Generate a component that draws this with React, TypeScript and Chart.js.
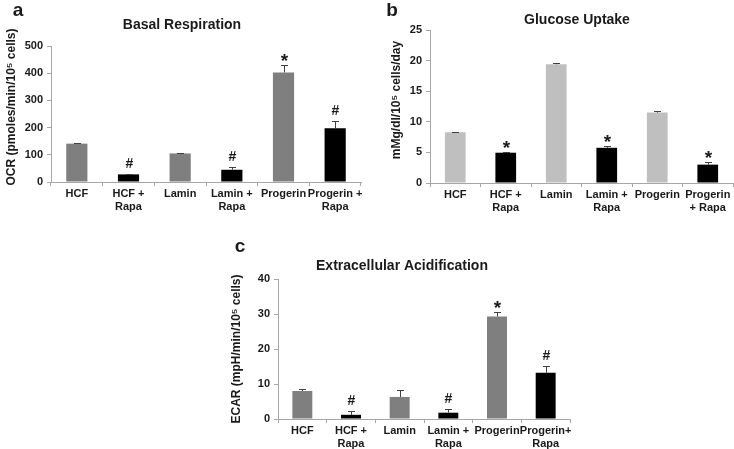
import React, { useEffect, useRef } from "react";
import { Chart, registerables } from "chart.js";

Chart.register(...registerables);

const FONT = '"Liberation Sans", Arial, Helvetica, sans-serif';

// ---------- data ----------
const catsA = [["HCF"], ["HCF +", "Rapa"], ["Lamin"], ["Lamin +", "Rapa"], ["Progerin"], ["Progerin +", "Rapa"]];
const catsB = [["HCF"], ["HCF +", "Rapa"], ["Lamin"], ["Lamin +", "Rapa"], ["Progerin"], ["Progerin", "+ Rapa"]];
const catsC = [["HCF"], ["HCF +", "Rapa"], ["Lamin"], ["Lamin +", "Rapa"], ["Progerin"], ["Progerin+", "Rapa"]];

const ocrValues = [141, 28, 105, 45, 403, 198];
const ocrErrors = [3, 3, 3, 11, 28, 26];
const ocrMarks = ["", "#", "", "#", "*", "#"];

const glucoseValues = [8.3, 4.95, 19.4, 5.75, 11.5, 3.0];
const glucoseErrors = [0.1, 0.1, 0.15, 0.25, 0.3, 0.4];
const glucoseMarks = ["", "*", "", "*", "", "*"];

const ecarValues = [8.0, 1.2, 6.3, 1.8, 29.3, 13.2];
const ecarErrors = [0.5, 1.0, 2.0, 1.0, 1.4, 2.0];
const ecarMarks = ["", "#", "", "#", "*", "#"];

const titles = ["Basal Respiration", "Glucose Uptake", "Extracellular Acidification"];
const yTitles = ["OCR (pmoles/min/10\u2075 cells)", "mMg/dl/10\u2075 cells/day", "ECAR (mpH/min/10\u2075 cells)"];
const letters = ["a", "b", "c"];

// ---------- style ----------
const DARK_GRAY = "#7f7f7f";
const LIGHT_GRAY = "#bfbfbf";
const BLACK = "#000000";
const AXIS = "#a6a6a6";
const TEXT = "#1a1a1a";

const annotPlugin = {
  id: "annot",
  afterDatasetsDraw(chart: any, _args: any, opts: any) {
    const ctx = chart.ctx;
    const meta = chart.getDatasetMeta(0);
    const y = chart.scales.y;
    meta.data.forEach((bar: any, i: number) => {
      const v = opts.values[i];
      const e = opts.errors[i];
      const x = Math.round(bar.x);
      const yTop = Math.round(y.getPixelForValue(v + e));
      const yBar = y.getPixelForValue(v);
      ctx.save();
      ctx.strokeStyle = "#404040";
      ctx.lineWidth = 1;
      ctx.beginPath();
      ctx.moveTo(x + 0.5, yBar);
      ctx.lineTo(x + 0.5, yTop + 0.5);
      ctx.moveTo(x - 3, yTop + 0.5);
      ctx.lineTo(x + 4, yTop + 0.5);
      ctx.stroke();
      const m = opts.marks[i];
      if (m) {
        ctx.fillStyle = TEXT;
        ctx.textAlign = "center";
        ctx.textBaseline = "alphabetic";
        if (m === "*") {
          ctx.font = `bold 19px ${FONT}`;
          ctx.fillText(m, x + 0.5, yTop + 2);
        } else {
          ctx.font = `bold 14px ${FONT}`;
          ctx.fillText(m, x + 0.5, yTop - 6);
        }
      }
      ctx.restore();
    });
  },
  afterDraw(chart: any, _args: any, opts: any) {
    const ctx = chart.ctx;
    ctx.save();
    ctx.fillStyle = TEXT;
    ctx.textAlign = "center";
    ctx.textBaseline = "middle";
    ctx.font = `bold 14px ${FONT}`;
    ctx.fillText(opts.title, opts.titleX, opts.titleY);
    ctx.save();
    ctx.translate(opts.yTitleX, opts.yTitleY);
    ctx.rotate(-Math.PI / 2);
    ctx.font = `bold 12px ${FONT}`;
    ctx.fillText(opts.yTitle, 0, 0);
    ctx.restore();
    ctx.textBaseline = "alphabetic";
    ctx.font = `bold 19px ${FONT}`;
    ctx.fillText(opts.letter, opts.letterX, opts.letterY);
    ctx.restore();
  },
};

type PanelCfg = {
  labels: string[][];
  values: number[];
  errors: number[];
  marks: string[];
  colors: string[];
  max: number;
  step: number;
  padding: { left: number; right: number; top: number; bottom: number };
  yWidth: number;
  xHeight: number;
  text: any;
};

function Panel({ cfg }: { cfg: PanelCfg }) {
  const ref = useRef<HTMLCanvasElement | null>(null);
  useEffect(() => {
    if (!ref.current) return;
    const tickFont = { family: FONT, size: 11, weight: "bold" as const, lineHeight: 1.2 };
    const chart = new Chart(ref.current, {
      type: "bar",
      data: {
        labels: cfg.labels as any,
        datasets: [
          {
            data: cfg.values,
            backgroundColor: cfg.colors,
            borderWidth: 0,
            categoryPercentage: 1,
            barPercentage: 0.41,
          },
        ],
      },
      options: {
        animation: false,
        responsive: false,
        devicePixelRatio: 1,
        layout: { padding: cfg.padding },
        plugins: {
          legend: { display: false },
          title: { display: false },
          tooltip: { enabled: false },
          annot: {
            values: cfg.values,
            errors: cfg.errors,
            marks: cfg.marks,
            ...cfg.text,
          },
        } as any,
        scales: {
          x: {
            offset: true,
            grid: { offset: true, drawOnChartArea: false, drawTicks: true, tickLength: 4, color: AXIS },
            border: { color: AXIS, width: 1 },
            ticks: { font: tickFont, color: TEXT, padding: 1, maxRotation: 0, autoSkip: false },
            afterFit: (s: any) => {
              s.height = cfg.xHeight;
            },
          },
          y: {
            min: 0,
            max: cfg.max,
            grid: { drawOnChartArea: false, drawTicks: true, tickLength: 4, color: AXIS },
            border: { color: AXIS, width: 1 },
            ticks: { stepSize: cfg.step, font: tickFont, color: TEXT, padding: 4 },
            afterFit: (s: any) => {
              s.width = cfg.yWidth;
            },
          },
        },
      },
      plugins: [annotPlugin as any],
    });
    return () => chart.destroy();
  }, []);
  return (
    <canvas
      ref={ref}
      width={734}
      height={449}
      style={{ position: "absolute", left: 0, top: 0, width: 734, height: 449 }}
    />
  );
}

const panelA: PanelCfg = {
  labels: catsA,
  values: ocrValues,
  errors: ocrErrors,
  marks: ocrMarks,
  colors: [DARK_GRAY, BLACK, DARK_GRAY, BLACK, DARK_GRAY, BLACK],
  max: 500,
  step: 100,
  padding: { left: 0, right: 373, top: 46, bottom: 227 },
  yWidth: 51,
  xHeight: 40,
  text: { title: titles[0], titleX: 182, titleY: 25, yTitle: yTitles[0], yTitleX: 12, yTitleY: 107, letter: letters[0], letterX: 18, letterY: 16 },
};

const panelB: PanelCfg = {
  labels: catsB,
  values: glucoseValues,
  errors: glucoseErrors,
  marks: glucoseMarks,
  colors: [LIGHT_GRAY, BLACK, LIGHT_GRAY, BLACK, LIGHT_GRAY, BLACK],
  max: 25,
  step: 5,
  padding: { left: 390, right: 1, top: 30, bottom: 226 },
  yWidth: 40,
  xHeight: 40,
  text: { title: titles[1], titleX: 577, titleY: 20, yTitle: yTitles[1], yTitleX: 397, yTitleY: 100, letter: letters[1], letterX: 392, letterY: 16 },
};

const panelC: PanelCfg = {
  labels: catsC,
  values: ecarValues,
  errors: ecarErrors,
  marks: ecarMarks,
  colors: [DARK_GRAY, BLACK, DARK_GRAY, BLACK, DARK_GRAY, BLACK],
  max: 40,
  step: 10,
  padding: { left: 238, right: 164, top: 279, bottom: 0 },
  yWidth: 40,
  xHeight: 30,
  text: { title: titles[2], titleX: 402, titleY: 266, yTitle: yTitles[2], yTitleX: 237, yTitleY: 349, letter: letters[2], letterX: 240, letterY: 252 },
};

export default function App() {
  return (
    <div
      style={{
        position: "absolute",
        left: 0,
        top: 0,
        width: 734,
        height: 449,
        background: "#ffffff",
        overflow: "hidden",
      }}
    >
      <Panel cfg={panelA} />
      <Panel cfg={panelB} />
      <Panel cfg={panelC} />
    </div>
  );
}
